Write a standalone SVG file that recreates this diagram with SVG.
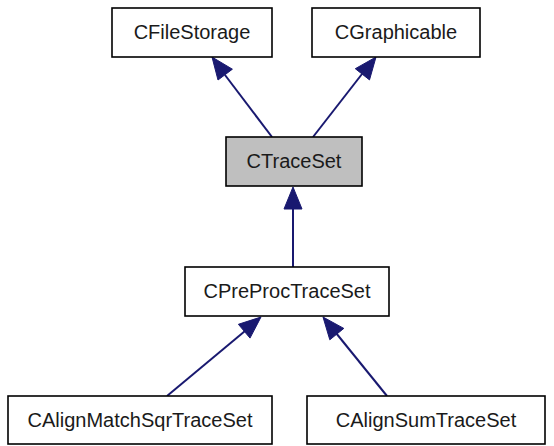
<svg xmlns="http://www.w3.org/2000/svg" width="554" height="446" viewBox="0 0 554 446">
  <style>
    .node rect { fill: #ffffff; stroke: #000000; stroke-width: 1.6; }
    .node.focus rect { fill: #bfbfbf; }
    .node text { font-family: "Liberation Sans", Arial, Helvetica, sans-serif; font-size: 20px; fill: #1a1a1a; text-anchor: middle; }
    .edges line { stroke: #191970; stroke-width: 2; }
    .edges polygon { fill: #191970; stroke: #191970; stroke-width: 1; stroke-linejoin: round; }
  </style>
  <rect width="554" height="446" fill="#ffffff"/>

  <g class="edges">
    <!-- CTraceSet -> CFileStorage -->
    <line x1="272" y1="137" x2="225" y2="75"/>
    <polygon points="212,57 232.4,69.2 218,80"/>
    <!-- CTraceSet -> CGraphicable -->
    <line x1="313" y1="137" x2="362" y2="74"/>
    <polygon points="376,57 369.5,79.9 355.3,68.7"/>
    <!-- CPreProcTraceSet -> CTraceSet -->
    <line x1="293" y1="267" x2="293" y2="208"/>
    <polygon points="293,187 302,209 284,209"/>
    <!-- CAlignMatchSqrTraceSet -> CPreProcTraceSet -->
    <line x1="167" y1="396" x2="245" y2="331"/>
    <polygon points="261,317 250,338.1 238.4,324.3"/>
    <!-- CAlignSumTraceSet -> CPreProcTraceSet -->
    <line x1="387" y1="396" x2="336" y2="333"/>
    <polygon points="323,317 343.8,328.4 329.8,339.8"/>
  </g>

  <g id="CFileStorage" class="node">
    <rect x="112" y="8" width="160" height="49"/>
    <text x="192" y="39">CFileStorage</text>
  </g>
  <g id="CGraphicable" class="node">
    <rect x="312" y="8" width="168" height="49"/>
    <text x="396" y="39">CGraphicable</text>
  </g>
  <g id="CTraceSet" class="node focus">
    <rect x="226" y="137" width="136" height="49"/>
    <text x="294" y="168">CTraceSet</text>
  </g>
  <g id="CPreProcTraceSet" class="node">
    <rect x="185" y="267" width="204" height="49"/>
    <text x="287" y="298">CPreProcTraceSet</text>
  </g>
  <g id="CAlignMatchSqrTraceSet" class="node">
    <rect x="8" y="396" width="264" height="48"/>
    <text x="140" y="427">CAlignMatchSqrTraceSet</text>
  </g>
  <g id="CAlignSumTraceSet" class="node">
    <rect x="307" y="396" width="238" height="48"/>
    <text x="426" y="427">CAlignSumTraceSet</text>
  </g>
</svg>
